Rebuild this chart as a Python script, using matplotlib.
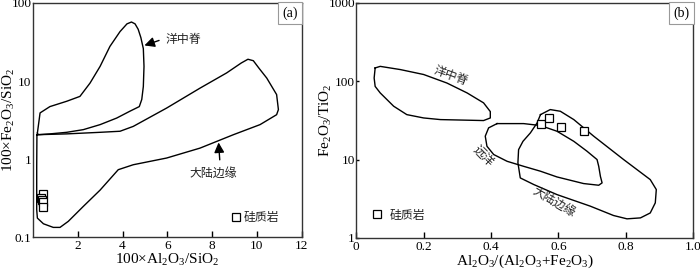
import matplotlib
matplotlib.use("Agg")
import matplotlib.pyplot as plt
from matplotlib.ticker import FixedLocator, NullLocator, FixedFormatter

plt.rcParams["font.family"] = ["Liberation Serif", "Noto Sans CJK SC"]
plt.rcParams["mathtext.fontset"] = "custom"
plt.rcParams["mathtext.rm"] = "Liberation Serif"
plt.rcParams["mathtext.it"] = "Liberation Serif:italic"
CJK = ["Noto Sans CJK SC"]

# ---- panel (a): 100*Al2O3/SiO2 vs 100*Fe2O3/SiO2 ----
a_mor_x = [0.2, 0.32, 0.76, 1.51, 2.1, 2.55, 3.0, 3.44, 3.89, 4.2, 4.4, 4.56, 4.7, 4.82,
           4.93, 4.96, 4.93, 4.86, 4.75, 4.33, 3.74, 3.0, 2.25, 1.51, 0.76, 0.24]
a_mor_y = [2.15, 3.9, 4.7, 5.5, 6.35, 9.4, 15.4, 27.8, 43, 54, 57, 54, 46, 36,
           26, 15.4, 8.5, 5.8, 4.7, 4.1, 3.35, 2.76, 2.38, 2.2, 2.1, 2.05]

a_cm_x = [0.18, 1.51, 3.0, 3.89, 4.48, 5.97, 7.46, 8.65, 9.3, 9.6, 9.84, 10.1, 10.44, 10.88,
          10.96, 10.88, 10.14, 8.95, 7.46, 5.97, 4.48, 3.81, 3.0, 2.25, 1.58, 1.21,
          0.91, 0.47, 0.2, 0.17, 0.17]
a_cm_y = [2.05, 2.1, 2.2, 2.27, 2.62, 4.5, 8.1, 12.7, 17.0, 19.0, 18.2, 14.5, 10.9, 6.7,
          4.3, 3.7, 2.76, 2.05, 1.38, 1.03, 0.845, 0.73, 0.40, 0.247, 0.159, 0.133,
          0.133, 0.148, 0.175, 0.224, 0.805]

a_chert_x = [0.44, 0.36, 0.40, 0.44, 0.47]
a_chert_y = [0.359, 0.313, 0.295, 0.278, 0.24]

# ---- panel (b): Al2O3/(Al2O3+Fe2O3) vs Fe2O3/TiO2 ----
b_mor_x = [0.056, 0.071, 0.131, 0.2, 0.269, 0.329, 0.378, 0.398, 0.398, 0.378, 0.25,
           0.2, 0.15, 0.111, 0.071, 0.056, 0.053]
b_mor_y = [148, 155, 141, 122, 95, 71, 53, 41, 34, 31.5, 32.4,
           34, 37.5, 48, 71, 86, 110]

b_pel_x = [0.418, 0.497, 0.547, 0.596, 0.646, 0.685, 0.715, 0.72, 0.725, 0.73, 0.72,
           0.675, 0.596, 0.547, 0.497, 0.448, 0.408, 0.388, 0.383, 0.393]
b_pel_y = [28.8, 28.8, 27.2, 23, 17.1, 12.8, 10, 8.2, 6.1, 5.04, 4.7,
           4.94, 6.0, 7.1, 8.2, 9.5, 11.6, 14.8, 19.9, 25.4]

b_cm_x = [0.547, 0.576, 0.606, 0.646, 0.705, 0.794, 0.873, 0.891, 0.888, 0.873, 0.844,
          0.804, 0.764, 0.695, 0.596, 0.527, 0.487, 0.48, 0.482, 0.495, 0.517, 0.537]
b_cm_y = [37.5, 43.5, 41.4, 32.4, 19.9, 10, 5.55, 4.14, 2.8, 2.08, 1.8,
          1.75, 1.93, 2.54, 3.57, 4.8, 5.83, 9.1, 13.4, 17.1, 21.9, 29.4]

b_chert_x = [0.55, 0.571, 0.609, 0.677]
b_chert_y = [28.8, 34, 25.9, 23]

fig = plt.figure(figsize=(7, 2.7), dpi=100)
ax1 = fig.add_axes([0.047, 0.122, 0.384, 0.867])
ax2 = fig.add_axes([0.509, 0.119, 0.481, 0.870])

lw = 1.0
cfs = 8.6
sq = dict(marker="s", ms=6, mfc="white", mec="black", mew=0.9, ls="none")


def closed(ax, xs, ys):
    ax.plot(list(xs) + [xs[0]], list(ys) + [ys[0]], color="black", lw=lw,
            solid_joinstyle="round")


# panel a
closed(ax1, a_mor_x, a_mor_y)
closed(ax1, a_cm_x, a_cm_y)
ax1.plot(a_chert_x, a_chert_y, **sq)
ax1.set_yscale("log")
ax1.set_xlim(0, 12)
ax1.set_ylim(0.1, 100)
ax1.xaxis.set_major_locator(FixedLocator([2, 4, 6, 8, 10, 12]))
ax1.yaxis.set_major_locator(FixedLocator([0.1, 1, 10, 100]))
ax1.yaxis.set_major_formatter(FixedFormatter(["0.1", "1", "10", "100"]))
ax1.yaxis.set_minor_locator(NullLocator())
ax1.set_xlabel(r"100×Al$_2$O$_3$/SiO$_2$", fontsize=11)
ax1.set_ylabel(r"100×Fe$_2$O$_3$/SiO$_2$", fontsize=11)
ax1.xaxis.set_label_coords(0.5, -0.065)
ax1.yaxis.set_label_coords(-0.06, 0.5)
ax1.annotate("", xy=(4.86, 27.8), xytext=(5.75, 34),
             arrowprops=dict(arrowstyle="-|>,head_length=0.6,head_width=0.3",
                             color="black", lw=1))
ax1.text(5.9, 34, "洋中脊", family=CJK, fontsize=cfs, va="center", color="#222222")
ax1.annotate("", xy=(8.28, 1.77), xytext=(8.35, 0.9),
             arrowprops=dict(arrowstyle="-|>,head_length=0.6,head_width=0.3",
                             color="black", lw=1))
ax1.text(8.05, 0.64, "大陆边缘", family=CJK, fontsize=cfs, ha="center", va="center",
         color="#222222")
ax1.plot([9.07], [0.18], **sq)
ax1.text(9.4, 0.18, "硅质岩", family=CJK, fontsize=cfs, va="center", color="#222222")
ax1.text(0.958, 0.957, "(a)", transform=ax1.transAxes, fontsize=10, ha="center",
         va="center", bbox=dict(boxstyle="square,pad=0.3", fc="white", ec="#999999", lw=0.8))

# panel b
closed(ax2, b_mor_x, b_mor_y)
closed(ax2, b_pel_x, b_pel_y)
closed(ax2, b_cm_x, b_cm_y)
ax2.plot(b_chert_x, b_chert_y, **sq)
ax2.set_yscale("log")
ax2.set_xlim(0, 1)
ax2.set_ylim(1, 1000)
ax2.xaxis.set_major_locator(FixedLocator([0, 0.2, 0.4, 0.6, 0.8, 1.0]))
ax2.xaxis.set_major_formatter(FixedFormatter(["0", "0.2", "0.4", "0.6", "0.8", "1.0"]))
ax2.yaxis.set_major_locator(FixedLocator([1, 10, 100, 1000]))
ax2.yaxis.set_major_formatter(FixedFormatter(["1", "10", "100", "1000"]))
ax2.yaxis.set_minor_locator(NullLocator())
ax2.set_xlabel(r"Al$_2$O$_3$/(Al$_2$O$_3$+Fe$_2$O$_3$)", fontsize=11)
ax2.set_ylabel(r"Fe$_2$O$_3$/TiO$_2$", fontsize=11)
ax2.xaxis.set_label_coords(0.5, -0.064)
ax2.yaxis.set_label_coords(-0.065, 0.5)
ax2.text(0.279, 116, "洋中脊", family=CJK, fontsize=cfs, ha="center", va="center",
         rotation=-20, color="#222222")
ax2.text(0.378, 11, "远洋", family=CJK, fontsize=cfs, ha="center", va="center",
         rotation=-45, color="#222222")
ax2.text(0.586, 2.8, "大陆边缘", family=CJK, fontsize=cfs, ha="center", va="center",
         rotation=-30, color="#222222")
ax2.plot([0.061], [1.99], **sq)
ax2.text(0.1, 1.95, "硅质岩", family=CJK, fontsize=cfs, va="center", color="#222222")
ax2.text(0.966, 0.957, "(b)", transform=ax2.transAxes, fontsize=10, ha="center",
         va="center", bbox=dict(boxstyle="square,pad=0.3", fc="white", ec="#999999", lw=0.8))

for ax in (ax1, ax2):
    for s in ax.spines.values():
        s.set_linewidth(1.0)
        s.set_color("#333333")
    ax.tick_params(axis="both", which="major", direction="in", labelsize=9.5,
                   length=4, width=1, pad=2)
    ax.tick_params(axis="y", length=2, pad=1)
    ax.tick_params(which="minor", length=0)
ax1.tick_params(axis="y", length=0, pad=1)

fig.savefig("out.png", dpi=100)
